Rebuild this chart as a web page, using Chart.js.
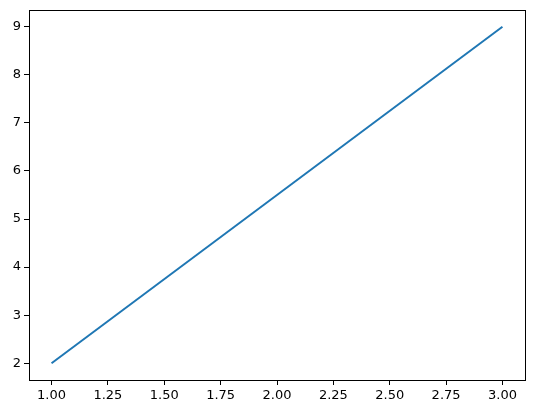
<!DOCTYPE html>
<html>
<head>
<meta charset="utf-8">
<script src="https://cdn.jsdelivr.net/npm/chart.js@4"></script>
<style>
  body { margin: 0; background: #fff; }
  #wrap { width: 534px; height: 413px; }
</style>
</head>
<body>
<div id="wrap"><canvas id="chart"></canvas></div>
<script>
var xValues = [1, 3];
var yValues = [2, 9];
var xTicks = [1.0, 1.25, 1.5, 1.75, 2.0, 2.25, 2.5, 2.75, 3.0];
var yTicks = [2, 3, 4, 5, 6, 7, 8, 9];

var points = xValues.map(function (x, i) { return { x: x, y: yValues[i] }; });

// draw the box round the plot like matplotlib does
var frame = {
  id: "frame",
  afterDraw: function (chart) {
    var a = chart.chartArea, ctx = chart.ctx;
    ctx.save();
    ctx.strokeStyle = "#000";
    ctx.lineWidth = 1;
    ctx.strokeRect(a.left + 0.5, a.top + 0.5, a.right - a.left, a.bottom - a.top);
    ctx.restore();
  }
};

function tickSetter(list) {
  return function (scale) {
    scale.ticks = list.map(function (v) { return { value: v }; });
  };
}

new Chart(document.getElementById("chart"), {
  type: "line",
  data: {
    datasets: [{
      data: points,
      borderColor: "#1f77b4",
      borderWidth: 2,
      pointRadius: 0,
      tension: 0,
      fill: false
    }]
  },
  options: {
    responsive: true,
    maintainAspectRatio: false,
    animation: false,
    layout: { padding: { left: 0, right: 9, top: 10, bottom: 0 } },
    plugins: { legend: { display: false }, tooltip: { enabled: false } },
    scales: {
      x: {
        type: "linear",
        min: 0.9,
        max: 3.1,
        afterBuildTicks: tickSetter(xTicks),
        afterFit: function (s) { s.height = 33; s.paddingLeft = 0; s.paddingRight = 0; },
        grid: { drawOnChartArea: false, drawTicks: true, tickLength: 5, tickColor: "#000" },
        border: { display: true, color: "#000" },
        ticks: {
          color: "#000",
          padding: 3,
          maxRotation: 0,
          font: { family: "DejaVu Sans", size: 13 },
          callback: function (v) { return v.toFixed(2); }
        }
      },
      y: {
        min: 1.65,
        max: 9.35,
        afterBuildTicks: tickSetter(yTicks),
        afterFit: function (s) { s.width = 29; s.paddingTop = 0; s.paddingBottom = 0; },
        grid: { drawOnChartArea: false, drawTicks: true, tickLength: 5, tickColor: "#000" },
        border: { display: true, color: "#000" },
        ticks: {
          color: "#000",
          padding: 3,
          font: { family: "DejaVu Sans", size: 13 },
          callback: function (v) { return String(v); }
        }
      }
    }
  },
  plugins: [frame]
});
</script>
</body>
</html>
